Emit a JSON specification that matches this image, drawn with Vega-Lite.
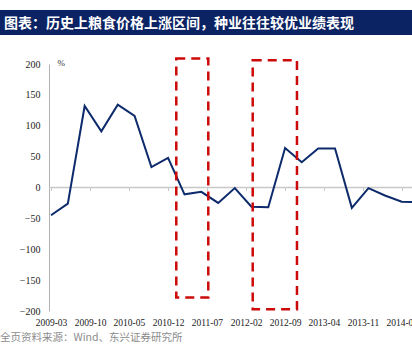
{
  "$schema": "https://vega.github.io/schema/vega-lite/v6.json",
  "padding": {"top": 10, "left": 0, "right": 0, "bottom": 0},
  "spacing": 22,
  "bounds": "full",
  "config": {
    "view": {"stroke": null},
    "font": "Liberation Serif"
  },
  "vconcat": [
    {
      "width": 412,
      "height": 25,
      "view": {"fill": "#0B2263", "stroke": null},
      "title": {
        "text": "图表：历史上粮食价格上涨区间，种业往往较优业绩表现",
        "anchor": "start",
        "frame": "bounds",
        "orient": "top",
        "offset": -21,
        "dx": 4,
        "font": "Noto Sans CJK SC",
        "fontSize": 14,
        "fontWeight": "bold",
        "color": "#FFFFFF"
      },
      "data": {"values": [{"t": ""}]},
      "mark": {"type": "text"},
      "encoding": {"text": {"field": "t"}}
    },
    {
      "width": 412,
      "height": 247,
      "title": {
        "text": "全页资料来源：Wind、东兴证券研究所",
        "orient": "bottom",
        "anchor": "start",
        "frame": "bounds",
        "offset": 6,
        "font": "Noto Sans CJK SC",
        "fontSize": 10.5,
        "fontWeight": "normal",
        "color": "#8C8C8C"
      },
      "encoding": {
        "x": {
          "field": "date",
          "type": "temporal",
          "scale": {
            "type": "utc",
            "domain": [
              {"year": 2008, "month": 5, "date": 26, "utc": true},
              {"year": 2014, "month": 7, "date": 27, "utc": true}
            ]
          },
          "axis": {
            "title": null,
            "values": [
              {"year": 2009, "month": 3, "date": 1, "utc": true},
              {"year": 2009, "month": 10, "date": 1, "utc": true},
              {"year": 2010, "month": 5, "date": 1, "utc": true},
              {"year": 2010, "month": 12, "date": 1, "utc": true},
              {"year": 2011, "month": 7, "date": 1, "utc": true},
              {"year": 2012, "month": 2, "date": 1, "utc": true},
              {"year": 2012, "month": 9, "date": 1, "utc": true},
              {"year": 2013, "month": 4, "date": 1, "utc": true},
              {"year": 2013, "month": 11, "date": 1, "utc": true},
              {"year": 2014, "month": 6, "date": 1, "utc": true}
            ],
            "format": "%Y-%m",
            "offset": -123.5,
            "domain": false,
            "tickColor": "#C8C8C8",
            "tickSize": 3,
            "labelPadding": 127,
            "labelFont": "Liberation Serif",
            "labelFontSize": 9.5,
            "labelColor": "#222222",
            "labelAngle": 0,
            "labelFlush": false,
            "labelOverlap": false,
            "grid": false
          }
        },
        "y": {
          "field": "value",
          "type": "quantitative",
          "scale": {"domain": [-200, 200], "nice": false, "zero": false},
          "axis": {
            "title": "%",
            "offset": -49,
            "titleAngle": 0,
            "titleX": 8,
            "titleY": -2,
            "titleAlign": "left",
            "titleBaseline": "middle",
            "titleFont": "Liberation Serif",
            "titleFontSize": 9,
            "titleFontWeight": "normal",
            "titleColor": "#333333",
            "values": [-200, -150, -100, -50, 0, 50, 100, 150, 200],
            "labelOverlap": false,
            "grid": false,
            "domainColor": "#B0B0B0",
            "domainWidth": 1,
            "ticks": false,
            "labelPadding": 9,
            "labelFont": "Liberation Serif",
            "labelFontSize": 10,
            "labelColor": "#222222"
          }
        }
      },
      "layer": [
        {
          "data": {"values": [
            {"date": "2009-02-18", "end": "2014-07-27", "value": 0}
          ]},
          "mark": {"type": "rule", "color": "#C8C8C8", "strokeWidth": 1.5},
          "encoding": {
            "x2": {"field": "end"}
          }
        },
        {
          "data": {"values": [
            {"date": "2009-03-01", "value": -45},
            {"date": "2009-06-01", "value": -26},
            {"date": "2009-09-01", "value": 132},
            {"date": "2009-12-01", "value": 91},
            {"date": "2010-03-01", "value": 134},
            {"date": "2010-06-01", "value": 116},
            {"date": "2010-09-01", "value": 33},
            {"date": "2010-12-01", "value": 48},
            {"date": "2011-03-01", "value": -11},
            {"date": "2011-06-01", "value": -7},
            {"date": "2011-09-01", "value": -25},
            {"date": "2011-12-01", "value": -1},
            {"date": "2012-03-01", "value": -31},
            {"date": "2012-06-01", "value": -32},
            {"date": "2012-09-01", "value": 64},
            {"date": "2012-12-01", "value": 41},
            {"date": "2013-03-01", "value": 63},
            {"date": "2013-06-01", "value": 63},
            {"date": "2013-09-01", "value": -33},
            {"date": "2013-12-01", "value": -1},
            {"date": "2014-03-01", "value": -13},
            {"date": "2014-06-01", "value": -23},
            {"date": "2014-09-01", "value": -24}
          ]},
          "mark": {"type": "line", "color": "#0D2A6B", "strokeWidth": 2, "clip": true}
        },
        {
          "data": {"values": [
            {"date": "2011-01-15", "end": "2011-07-09", "value": 209, "bottom": -178},
            {"date": "2012-03-08", "end": "2012-11-05", "value": 206, "bottom": -197}
          ]},
          "mark": {"type": "rect", "fill": null, "fillOpacity": 0, "stroke": "#CC0A0A", "strokeWidth": 2.5, "strokeDash": [9, 6]},
          "encoding": {
            "x2": {"field": "end"},
            "y2": {"field": "bottom"}
          }
        }
      ]
    }
  ]
}
